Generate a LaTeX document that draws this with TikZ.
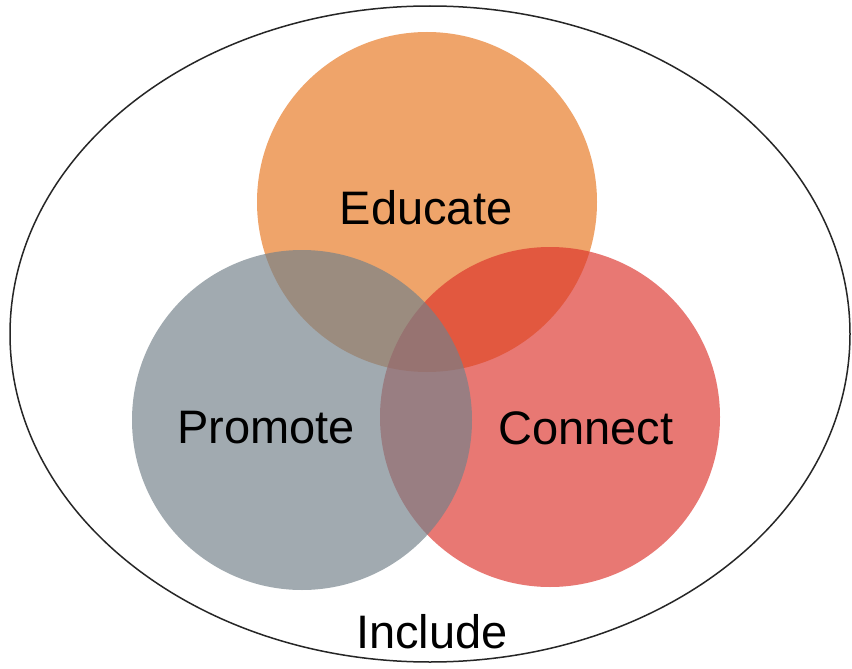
\documentclass[tikz,border=0pt]{standalone}
\usepackage{fontspec}
\setmainfont{Liberation Sans}
\definecolor{edu}{RGB}{239,164,106}
\definecolor{con}{RGB}{220,48,41}
\definecolor{pro}{RGB}{115,129,138}
\tikzset{
  venn/.style={circle, minimum size=340pt, inner sep=0pt, draw=none},
  lbl/.style={font=\fontsize{47}{56}\selectfont, text=black, inner sep=0pt},
  outer/.style={ellipse, draw=black!85, line width=1.5pt, minimum width=840pt, minimum height=656pt, inner sep=0pt}
}
\usetikzlibrary{shapes.geometric}
\begin{document}
\begin{tikzpicture}[x=1pt,y=-1pt]
\useasboundingbox (0,0) rectangle (852,669);
\fill[white] (0,0) rectangle (852,669);
\node[outer] (all) at (430,334) {};
\node[venn, fill=edu] (educate) at (427,202) {};
\node[venn, fill=con, fill opacity=0.65] (connect) at (550,417) {};
\node[venn, fill=pro, fill opacity=0.67] (promote) at (302,420) {};
\node[lbl] (teducate) at (426,208) {Educate};
\node[lbl] (tpromote) at (266,428) {Promote};
\node[lbl] (tconnect) at (586,428) {Connect};
\node[lbl] (tinclude) at (432,632) {Include};
\end{tikzpicture}
\end{document}
